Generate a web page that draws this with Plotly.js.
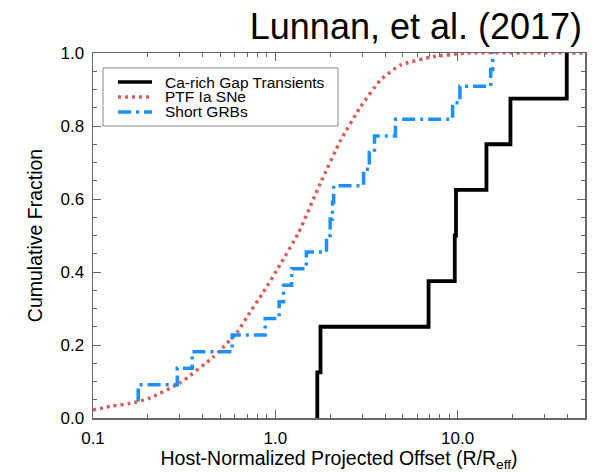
<!DOCTYPE html>
<html>
<head>
<meta charset="utf-8">
<script src="https://cdn.plot.ly/plotly-3.0.1.min.js"></script>
<style>
  html, body { margin: 0; padding: 0; background: #fff; }
  #chart { width: 607px; height: 472px; }
</style>
</head>
<body>
<div id="chart"></div>
<script>
// ---- data ----
// Ca-rich gap transients: sorted host-normalized offsets (8 objects)
var caRichOffsets = [1.70, 1.77, 6.93, 9.65, 9.8, 14.4, 19.5, 39.7];
// Short GRBs: sorted host-normalized offsets (22 objects)
var sgrbOffsets = [0.177, 0.177, 0.29, 0.35, 0.58, 0.88, 1.05, 1.11, 1.23, 1.48,
                   1.91, 2.0, 2.06, 2.09, 3.05, 3.28, 3.5, 4.56, 9.39, 10.3, 15.2, 15.6];
// PTF Ia SNe: cumulative curve (offset, fraction)
var ptfOffsets  = [0.1, 0.128, 0.16, 0.19, 0.206, 0.30, 0.457, 0.5, 0.62, 0.70, 0.86,
                   1.06, 1.34, 1.77, 2.28, 2.93, 3.78, 4.86, 7.4, 11.3, 50];
var ptfFraction = [0.022, 0.033, 0.04, 0.049, 0.055, 0.096, 0.167, 0.186, 0.236, 0.277, 0.345,
                   0.419, 0.507, 0.644, 0.76, 0.852, 0.926, 0.967, 0.99, 1.0, 1.0];

var seriesNames = ["Ca-rich Gap Transients", "PTF Ia SNe", "Short GRBs"];
var xTickVals = [0.1, 1, 10];
var xTickText = ["0.1", "1.0", "10.0"];
var yTickVals = [0, 0.2, 0.4, 0.6, 0.8, 1.0];
var yTickText = ["0.0", "0.2", "0.4", "0.6", "0.8", "1.0"];

// ---- build cumulative step series ----
function cdf(vals, startAtZero) {
  var n = vals.length, xs = [], ys = [];
  if (startAtZero) { xs.push(vals[0]); ys.push(0); }
  for (var i = 0; i < n; i++) { xs.push(vals[i]); ys.push((i + 1) / n); }
  return {x: xs, y: ys};
}
var black = cdf(caRichOffsets, true);
var blue = cdf(sgrbOffsets, false);

var colBlack = "#000000", colRed = "#d65d5b", colBlue = "#1e8fff";
var redDash = "3px,4px", blueDash = "13px,5px,3px,5px";

var traces = [
  {x: ptfOffsets, y: ptfFraction, mode: "lines", name: seriesNames[1],
   line: {color: colRed, width: 3.5, dash: redDash, shape: "spline", smoothing: 0.5}},
  {x: blue.x, y: blue.y, mode: "lines", name: seriesNames[2],
   line: {color: colBlue, width: 3.5, dash: blueDash, shape: "hv"}},
  {x: black.x, y: black.y, mode: "lines", name: seriesNames[0],
   line: {color: colBlack, width: 3.8, shape: "hv"}}
];

// minor tick positions (2..9 per decade)
var xMinor = [];
[0.1, 1, 10].forEach(function (d) { for (var k = 2; k <= 9; k++) { var v = d * k; if (v <= 50) xMinor.push(v); } });

var font = "Liberation Sans, Arial, Helvetica, sans-serif";
var axisColor = "#666666";

// manual legend (paper coordinates)
var legX0 = 0.0203, legX1 = 0.498, legY0 = 0.80, legY1 = 0.959;
var sampleX0 = 0.0508, sampleX1 = 0.1199, textX = 0.1423;
var rowY = [0.9205, 0.8795, 0.8384];
var legendColors = [colBlack, colRed, colBlue];
var legendDash = ["solid", redDash, blueDash];

var shapes = [{type: "rect", xref: "paper", yref: "paper", x0: legX0, x1: legX1, y0: legY0, y1: legY1,
               line: {color: "#888888", width: 1}, fillcolor: "rgba(0,0,0,0)"}];
var annotations = [];
for (var i = 0; i < 3; i++) {
  shapes.push({type: "line", xref: "paper", yref: "paper", x0: sampleX0, x1: sampleX1, y0: rowY[i], y1: rowY[i],
               line: {color: legendColors[i], width: 3.5, dash: legendDash[i]}});
  annotations.push({xref: "paper", yref: "paper", x: textX, y: rowY[i], xanchor: "left", yanchor: "middle",
                    text: seriesNames[i], showarrow: false, font: {family: font, size: 15.5, color: "#000"}});
}

var layout = {
  width: 607, height: 472,
  margin: {l: 93, r: 22, t: 53, b: 54},
  paper_bgcolor: "#ffffff", plot_bgcolor: "#ffffff",
  showlegend: false,
  font: {family: font, size: 17, color: "#000"},
  title: {text: "Lunnan, et al. (2017)", font: {family: font, size: 36, color: "#000"},
          xref: "paper", x: 0.994, xanchor: "right", yref: "container", y: 0.945, yanchor: "middle"},
  xaxis: {
    type: "log", range: [-1, Math.log10(50)],
    tickvals: xTickVals, ticktext: xTickText,
    ticks: "inside", ticklen: 8, tickwidth: 1, tickcolor: axisColor,
    minor: {tickvals: xMinor, ticks: "inside", ticklen: 4, tickwidth: 1, tickcolor: axisColor},
    showline: true, linecolor: axisColor, linewidth: 1.5, mirror: "ticks",
    showgrid: false, zeroline: false, layer: "below traces",
    tickfont: {family: font, size: 17}, ticklabelstandoff: 4,
    title: {text: "Host-Normalized Projected Offset (R/R<sub>eff</sub>)", font: {family: font, size: 19.5}, standoff: 4}
  },
  yaxis: {
    range: [0, 1],
    tickvals: yTickVals, ticktext: yTickText,
    ticks: "inside", ticklen: 8, tickwidth: 1, tickcolor: axisColor,
    minor: {dtick: 0.05, ticks: "inside", ticklen: 4, tickwidth: 1, tickcolor: axisColor},
    showline: true, linecolor: axisColor, linewidth: 1.5, mirror: "ticks",
    showgrid: false, zeroline: false, layer: "below traces",
    tickfont: {family: font, size: 17}, ticklabelstandoff: 4,
    title: {text: "Cumulative Fraction", font: {family: font, size: 19.5}, standoff: 12}
  },
  shapes: shapes,
  annotations: annotations
};

Plotly.newPlot("chart", traces, layout, {displayModeBar: false, staticPlot: true});
</script>
</body>
</html>
